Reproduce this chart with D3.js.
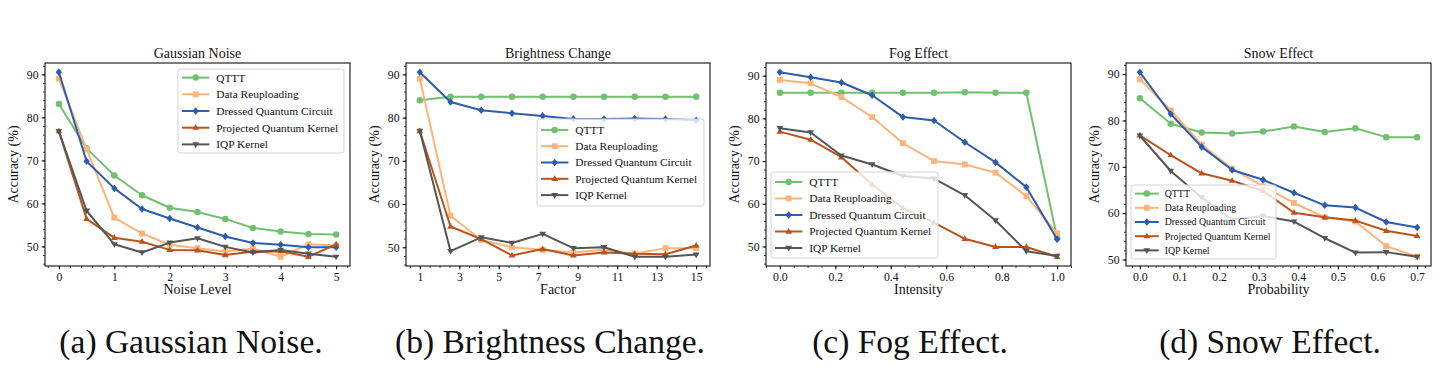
<!DOCTYPE html>
<html>
<head>
<meta charset="utf-8">
<script src="https://cdn.jsdelivr.net/npm/d3@7"></script>
<style>
  html, body { margin: 0; padding: 0; background: #fff; }
  svg { display: block; }
  svg text { font-family: "Liberation Serif", "Times New Roman", Times, "DejaVu Serif", serif; fill: #111; }
</style>
</head>
<body>
<svg id="chart" width="1447" height="382"></svg>
<script>
// ---------- DATA ----------
const seriesNames = ["QTTT", "Data Reuploading", "Dressed Quantum Circuit", "Projected Quantum Kernel", "IQP Kernel"];
const seriesColors = ["#70c070", "#fdb47a", "#2d5ca8", "#b9531d", "#555555"];
const seriesMarkers = ["circle", "square", "diamond", "triUp", "triDown"];

const panelTitles = ["Gaussian Noise", "Brightness Change", "Fog Effect", "Snow Effect"];
const xLabels = ["Noise Level", "Factor", "Intensity", "Probability"];
const captions = ["(a) Gaussian Noise.", "(b) Brightness Change.", "(c) Fog Effect.", "(d) Snow Effect."];

// Gaussian noise
const gaussX = [0, 0.5, 1, 1.5, 2, 2.5, 3, 3.5, 4, 4.5, 5];
const gaussQTTT = [83.1, 72.8, 66.5, 61.9, 59.0, 58.0, 56.4, 54.3, 53.5, 52.9, 52.8];
const gaussReup = [89.0, 72.6, 56.7, 53.0, 50.4, 49.6, 48.8, 49.5, 47.6, 50.5, 50.2];
const gaussDressed = [90.5, 69.8, 63.5, 58.7, 56.5, 54.4, 52.3, 50.8, 50.4, 49.8, 49.8];
const gaussProj = [76.8, 56.4, 52.0, 51.1, 49.2, 49.1, 48.0, 48.8, 48.9, 47.6, 50.5];
const gaussIQP = [76.8, 58.3, 50.5, 48.6, 50.9, 51.9, 49.9, 48.6, 49.2, 48.3, 47.6];
const gaussTicks = [0, 1, 2, 3, 4, 5];

// Brightness change
const brightX = [1, 2.556, 4.111, 5.667, 7.222, 8.778, 10.333, 11.889, 13.444, 15];
const brightQTTT = [84.0, 84.8, 84.8, 84.8, 84.8, 84.8, 84.8, 84.8, 84.8, 84.8];
const brightReup = [89.0, 57.3, 51.7, 50.0, 49.4, 48.8, 49.4, 48.5, 49.8, 49.8];
const brightDressed = [90.5, 83.6, 81.7, 81.0, 80.4, 79.7, 79.7, 79.8, 79.7, 79.4];
const brightProj = [76.9, 54.8, 51.9, 48.1, 49.6, 48.1, 48.8, 48.5, 48.4, 50.4];
const brightIQP = [76.9, 49.1, 52.3, 51.0, 53.1, 49.8, 50.0, 47.8, 47.8, 48.3];
const brightTicks = [1, 3, 5, 7, 9, 11, 13, 15];

// Fog effect
const fogX = [0, 0.111, 0.222, 0.333, 0.444, 0.556, 0.667, 0.778, 0.889, 1.0];
const fogQTTT = [86.0, 86.0, 86.0, 86.0, 86.0, 86.0, 86.1, 86.0, 86.0, 52.0];
const fogReup = [89.0, 88.2, 85.0, 80.3, 74.2, 70.0, 69.2, 67.3, 61.8, 53.1];
const fogDressed = [90.8, 89.6, 88.4, 85.4, 80.3, 79.5, 74.4, 69.7, 63.9, 51.7];
const fogProj = [76.9, 75.0, 70.9, 64.5, 59.0, 55.6, 51.8, 49.9, 49.9, 47.6];
const fogIQP = [77.7, 76.7, 71.3, 69.2, 66.5, 65.9, 62.0, 56.1, 48.9, 47.8];
const fogTicks = [0.0, 0.2, 0.4, 0.6, 0.8, 1.0];

// Snow effect
const snowX = [0, 0.078, 0.156, 0.233, 0.311, 0.389, 0.467, 0.544, 0.622, 0.7];
const snowQTTT = [84.8, 79.3, 77.4, 77.2, 77.6, 78.7, 77.5, 78.3, 76.4, 76.4];
const snowReup = [88.9, 82.2, 74.8, 69.6, 65.8, 62.2, 59.1, 58.2, 52.9, 50.6];
const snowDressed = [90.4, 81.4, 74.3, 69.3, 67.2, 64.4, 61.7, 61.2, 58.1, 56.9];
const snowProj = [76.8, 72.5, 68.6, 67.0, 64.8, 60.1, 59.1, 58.4, 56.2, 55.1];
const snowIQP = [76.7, 69.1, 63.4, 58.6, 59.4, 58.2, 54.6, 51.5, 51.6, 50.6];
const snowTicks = [0.0, 0.1, 0.2, 0.3, 0.4, 0.5, 0.6, 0.7];

const yTicks = [50, 60, 70, 80, 90];

// ---------- LAYOUT ----------
const SERIF = "'Liberation Serif', 'Times New Roman', Times, 'DejaVu Serif', serif";
const panels = [
  { x: gaussX, ys: [gaussQTTT, gaussReup, gaussDressed, gaussProj, gaussIQP], ticks: gaussTicks, fmt: d3.format("d"), minor: 0.2,
    left: 45, right: 350, capX: 191, legend: { x: 178, y: 69, w: 166, h: 84, font: 11.4, step: 16.7 } },
  { x: brightX, ys: [brightQTTT, brightReup, brightDressed, brightProj, brightIQP], ticks: brightTicks, fmt: d3.format("d"), minor: 0.5,
    left: 406, right: 710, capX: 550, legend: { x: 537, y: 119, w: 167, h: 87, font: 11.4, step: 16.3 } },
  { x: fogX, ys: [fogQTTT, fogReup, fogDressed, fogProj, fogIQP], ticks: fogTicks, fmt: d3.format(".1f"), minor: 0.05,
    left: 766, right: 1071, capX: 910, legend: { x: 771, y: 172, w: 167, h: 86, font: 11.4, step: 16.5 } },
  { x: snowX, ys: [snowQTTT, snowReup, snowDressed, snowProj, snowIQP], ticks: snowTicks, fmt: d3.format(".1f"), minor: 0.02,
    left: 1126, right: 1431, capX: 1270, legend: { x: 1131, y: 185, w: 145, h: 74, font: 9.9, step: 14.2 } }
];
const plotTop = 63, plotBottom = 266;

const svg = d3.select("#chart").attr("font-family", SERIF);

function markerPath(type, s) {
  const p = d3.path();
  if (type === "circle") { p.arc(0, 0, s * 0.5, 0, 2 * Math.PI); }
  else if (type === "square") { const h = s * 0.45; p.rect(-h, -h, 2 * h, 2 * h); }
  else if (type === "diamond") { const h = s * 0.58; p.moveTo(0, -h); p.lineTo(h * 0.85, 0); p.lineTo(0, h); p.lineTo(-h * 0.85, 0); p.closePath(); }
  else if (type === "triUp") { const h = s * 0.55; p.moveTo(0, -h); p.lineTo(h * 0.95, h * 0.6); p.lineTo(-h * 0.95, h * 0.6); p.closePath(); }
  else if (type === "triDown") { const h = s * 0.55; p.moveTo(0, h); p.lineTo(h * 0.95, -h * 0.6); p.lineTo(-h * 0.95, -h * 0.6); p.closePath(); }
  return p.toString();
}

panels.forEach((pn, pi) => {
  const g = svg.append("g");
  const xExt = d3.extent(pn.x);
  const xPad = (xExt[1] - xExt[0]) * 0.05;
  const allY = pn.ys.flat();
  const yExt = d3.extent(allY);
  const yPad = (yExt[1] - yExt[0]) * 0.05;
  const x = d3.scaleLinear().domain([xExt[0] - xPad, xExt[1] + xPad]).range([pn.left, pn.right]);
  const y = d3.scaleLinear().domain([yExt[0] - yPad, yExt[1] + yPad]).range([plotBottom, plotTop]);

  // minor ticks
  const xMinor = d3.range(Math.ceil(x.domain()[0] / pn.minor - 1e-9), Math.floor(x.domain()[1] / pn.minor + 1e-9) + 1).map(k => k * pn.minor);
  const yMinor = d3.range(Math.ceil(y.domain()[0] / 2), Math.floor(y.domain()[1] / 2) + 1).map(k => k * 2);

  const xAxisMinor = d3.axisBottom(x).tickValues(xMinor).tickSize(2).tickFormat("");
  const yAxisMinor = d3.axisLeft(y).tickValues(yMinor).tickSize(2).tickFormat("");
  g.append("g").attr("transform", `translate(0,${plotBottom})`).call(xAxisMinor)
    .call(a => a.select(".domain").remove()).selectAll("line").attr("stroke", "#111").attr("stroke-width", 0.8);
  g.append("g").attr("transform", `translate(${pn.left},0)`).call(yAxisMinor)
    .call(a => a.select(".domain").remove()).selectAll("line").attr("stroke", "#111").attr("stroke-width", 0.8);

  const xAxis = d3.axisBottom(x).tickValues(pn.ticks).tickFormat(pn.fmt).tickSize(3.5).tickPadding(3);
  const yAxis = d3.axisLeft(y).tickValues(yTicks).tickFormat(d3.format("d")).tickSize(3.5).tickPadding(3);
  const gx = g.append("g").attr("transform", `translate(0,${plotBottom})`).call(xAxis).attr("font-family", SERIF);
  gx.select(".domain").remove();
  gx.selectAll("line").attr("stroke", "#111").attr("stroke-width", 1);
  gx.selectAll("text").attr("font-size", 11.7).attr("fill", "#111");
  const gy = g.append("g").attr("transform", `translate(${pn.left},0)`).call(yAxis).attr("font-family", SERIF);
  gy.select(".domain").remove();
  gy.selectAll("line").attr("stroke", "#111").attr("stroke-width", 1);
  gy.selectAll("text").attr("font-size", 11.7).attr("fill", "#111");

  // clip
  const clipId = "clip" + pi;
  svg.append("clipPath").attr("id", clipId).append("rect")
    .attr("x", pn.left).attr("y", plotTop).attr("width", pn.right - pn.left).attr("height", plotBottom - plotTop);

  const plot = g.append("g").attr("clip-path", `url(#${clipId})`);
  const line = d3.line().x(d => x(d[0])).y(d => y(d[1]));
  pn.ys.forEach((vals, si) => {
    const pts = pn.x.map((xv, i) => [xv, vals[i]]);
    plot.append("path").datum(pts).attr("d", line)
      .attr("fill", "none").attr("stroke", seriesColors[si]).attr("stroke-width", 2).attr("stroke-linejoin", "round");
    plot.selectAll(null).data(pts).enter().append("path")
      .attr("d", markerPath(seriesMarkers[si], 6.5))
      .attr("transform", d => `translate(${x(d[0])},${y(d[1])})`)
      .attr("fill", seriesColors[si]);
  });

  // frame
  g.append("rect").attr("x", pn.left).attr("y", plotTop).attr("width", pn.right - pn.left).attr("height", plotBottom - plotTop)
    .attr("fill", "none").attr("stroke", "#111").attr("stroke-width", 1.1);

  // title and labels
  const cx = (pn.left + pn.right) / 2;
  g.append("text").attr("x", cx).attr("y", 58).attr("text-anchor", "middle").attr("font-size", 14).text(panelTitles[pi]);
  g.append("text").attr("x", cx).attr("y", 294).attr("text-anchor", "middle").attr("font-size", 14).text(xLabels[pi]);
  g.append("text").attr("transform", `translate(${pn.left - 27},${(plotTop + plotBottom) / 2}) rotate(-90)`)
    .attr("text-anchor", "middle").attr("font-size", 14).text("Accuracy (%)");

  // legend
  const L = pn.legend;
  const lg = g.append("g");
  lg.append("rect").attr("x", L.x).attr("y", L.y).attr("width", L.w).attr("height", L.h).attr("rx", 2.5)
    .attr("fill", "#fff").attr("fill-opacity", 0.8).attr("stroke", "#d4d4d4").attr("stroke-width", 1);
  const first = L.y + (L.h - 4 * L.step) / 2;
  seriesNames.forEach((nm, si) => {
    const ly = first + L.step * si;
    const x0 = L.x + 4, x1 = L.x + 4 + L.font * 2.4;
    lg.append("line").attr("x1", x0).attr("x2", x1).attr("y1", ly).attr("y2", ly)
      .attr("stroke", seriesColors[si]).attr("stroke-width", 2);
    lg.append("path").attr("d", markerPath(seriesMarkers[si], 6.5)).attr("transform", `translate(${(x0 + x1) / 2},${ly})`)
      .attr("fill", seriesColors[si]);
    lg.append("text").attr("x", x1 + L.font * 0.6).attr("y", ly).attr("dy", "0.35em").attr("font-size", L.font).text(nm);
  });

  // caption
  svg.append("text").attr("x", pn.capX).attr("y", 353).attr("text-anchor", "middle").attr("font-size", 33.5).text(captions[pi]);
});
</script>
</body>
</html>
